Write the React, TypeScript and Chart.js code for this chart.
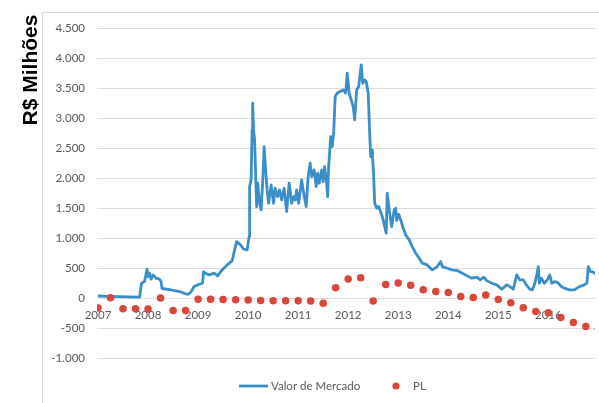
import { useEffect, useRef } from "react";
import { Chart, registerables } from "chart.js";
Chart.register(...registerables);

// Valor de Mercado (R$ milhões) — year fraction and value
const mvYears = [
  2007.0, 2007.2, 2007.4, 2007.6, 2007.83, 2007.87, 2007.93, 2007.98, 2008.0, 2008.03,
  2008.06, 2008.1, 2008.16, 2008.23, 2008.26, 2008.28, 2008.46, 2008.65, 2008.72, 2008.8,
  2008.86, 2008.92, 2008.99, 2009.09, 2009.11, 2009.12, 2009.22, 2009.32, 2009.39, 2009.48,
  2009.58, 2009.68, 2009.77, 2009.85, 2009.91, 2009.98, 2010.02, 2010.03, 2010.06, 2010.08,
  2010.09, 2010.11, 2010.13, 2010.15, 2010.17, 2010.19, 2010.23, 2010.26, 2010.29, 2010.32,
  2010.35, 2010.38, 2010.41, 2010.46, 2010.51, 2010.54, 2010.59, 2010.63, 2010.67, 2010.72,
  2010.77, 2010.82, 2010.87, 2010.91, 2010.94, 2010.97, 2011.01, 2011.07, 2011.1, 2011.16,
  2011.2, 2011.24, 2011.27, 2011.32, 2011.36, 2011.39, 2011.42, 2011.47, 2011.5, 2011.53,
  2011.57, 2011.59, 2011.61, 2011.65, 2011.68, 2011.71, 2011.74, 2011.78, 2011.83, 2011.9,
  2011.95, 2011.98, 2012.02, 2012.06, 2012.1, 2012.13, 2012.17, 2012.21, 2012.26, 2012.29,
  2012.33, 2012.36, 2012.4, 2012.43, 2012.45, 2012.48, 2012.51, 2012.53, 2012.57, 2012.61,
  2012.66, 2012.7, 2012.76, 2012.78, 2012.82, 2012.87, 2012.92, 2012.95, 2012.97, 2013.01,
  2013.05, 2013.1, 2013.15, 2013.22, 2013.28, 2013.35, 2013.42, 2013.48, 2013.58, 2013.68,
  2013.78, 2013.85, 2013.88, 2013.98, 2014.08, 2014.18, 2014.28, 2014.38, 2014.47, 2014.57,
  2014.64, 2014.71, 2014.77, 2014.87, 2014.97, 2015.07, 2015.17, 2015.23, 2015.3, 2015.37,
  2015.43, 2015.5, 2015.56, 2015.63, 2015.68, 2015.73, 2015.77, 2015.8, 2015.82, 2015.86,
  2015.92, 2015.98, 2016.03, 2016.07, 2016.13, 2016.19, 2016.26, 2016.32, 2016.42, 2016.52,
  2016.62, 2016.72, 2016.77, 2016.8, 2016.84, 2016.89, 2016.92, 2016.96,
];
const mvValues = [
  40, 35, 30, 25, 20, 253, 280, 486, 363, 420,
  320, 391, 336, 320, 280, 165, 141, 110, 85, 65,
  110, 197, 225, 253, 446, 430, 391, 420, 375, 474,
  557, 624, 945, 890, 819, 807, 1028, 1860, 1972, 2804,
  3248, 2804, 2637, 2083, 1528, 1917, 1584, 1473, 1917, 2526,
  2138, 1805, 1584, 1889, 1584, 1834, 1694, 1805, 1639, 1834,
  1445, 1917, 1584, 1694, 1639, 1805, 1584, 1972, 1805, 1528,
  2027, 2250, 2027, 2138, 1860, 2083, 1917, 2138, 1944, 2194,
  1917, 1694, 2194, 2693, 2526, 2749, 3358, 3414, 3441, 3469,
  3414, 3747, 3414, 3303, 3192, 2970, 3469, 3525, 3885, 3581,
  3636, 3608, 3414, 2749, 2360, 2471, 2027, 1584, 1500, 1528,
  1418, 1306, 1085, 1750, 1473, 1195, 1473, 1500, 1300, 1400,
  1306, 1168, 1057, 973, 862, 752, 669, 586, 557, 474,
  530, 613, 530, 502, 474, 463, 420, 375, 336, 353,
  308, 353, 296, 253, 225, 153, 225, 197, 153, 391,
  308, 308, 225, 153, 141, 253, 391, 530, 253, 336,
  253, 308, 391, 253, 280, 264, 197, 170, 141, 141,
  197, 225, 253, 530, 446, 446, 420, 400,
];

// PL (R$ milhões) — quarterly
const plQuarters = [
  2007.0, 2007.25, 2007.5, 2007.75, 2008.0, 2008.25, 2008.5, 2008.75, 2009.0, 2009.25,
  2009.5, 2009.75, 2010.0, 2010.25, 2010.5, 2010.75, 2011.0, 2011.25, 2011.5, 2011.75,
  2012.0, 2012.25, 2012.5, 2012.75, 2013.0, 2013.25, 2013.5, 2013.75, 2014.0, 2014.25,
  2014.5, 2014.75, 2015.0, 2015.25, 2015.5, 2015.75, 2016.0, 2016.25, 2016.5, 2016.75,
  2017.0,
];
const plValues = [
  -160, 12, -172, -172, -178, 5, -200, -200, -12, -15,
  -20, -23, -28, -33, -38, -40, -40, -45, -80, 178,
  322, 345, -45, 230, 255, 217, 145, 117, 100, 33,
  17, 55, -17, -72, -155, -217, -238, -317, -400, -467,
  -510,
];

const xTickYears = [2007, 2008, 2009, 2010, 2011, 2012, 2013, 2014, 2015, 2016];
const yTickValues = [-1000, -500, 0, 500, 1000, 1500, 2000, 2500, 3000, 3500, 4000, 4500];

const seriesNames = ["Valor de Mercado", "PL"];
const yTitle = "R$ Milhões";

const BLUE = "#3A8FC8";
const RED = "#D9463B";
const GRID = "#DCDCDC";
const TEXT = "#595959";
const FONT = "Lato, 'Open Sans', sans-serif";

function fmtBR(v: number): string {
  const neg = v < 0;
  const s = Math.round(Math.abs(v)).toString();
  const withSep = s.replace(/\B(?=(\d{3})+(?!\d))/g, ".");
  return (neg ? "-" : "") + withSep;
}

export default function App() {
  const ref = useRef<HTMLCanvasElement>(null);

  useEffect(() => {
    if (!ref.current) return;

    const decor = {
      id: "decor",
      beforeDraw(chart: any) {
        const ctx = chart.ctx;
        ctx.save();
        ctx.fillStyle = "#ffffff";
        ctx.fillRect(0, 0, chart.width, chart.height);
        ctx.strokeStyle = "#D9D9D9";
        ctx.lineWidth = 1;
        ctx.beginPath();
        ctx.moveTo(42.5, chart.height);
        ctx.lineTo(42.5, 12.5);
        ctx.lineTo(chart.width, 12.5);
        ctx.stroke();
        ctx.restore();
      },
      afterDraw(chart: any) {
        const ctx = chart.ctx;
        ctx.save();
        // Y title
        ctx.translate(37, 70);
        ctx.rotate(-Math.PI / 2);
        ctx.font = "bold 21px 'Liberation Sans', Arial, sans-serif";
        ctx.fillStyle = "#000000";
        ctx.textAlign = "center";
        ctx.textBaseline = "alphabetic";
        ctx.fillText(yTitle, 0, 0);
        ctx.restore();

        // Legend
        ctx.save();
        const ly = 386;
        ctx.font = `11.5px ${FONT}`;
        ctx.textBaseline = "middle";
        ctx.textAlign = "left";
        ctx.fillStyle = TEXT;
        ctx.strokeStyle = BLUE;
        ctx.lineWidth = 2.8;
        ctx.beginPath();
        ctx.moveTo(239, ly);
        ctx.lineTo(268, ly);
        ctx.stroke();
        ctx.fillText(seriesNames[0], 271, ly);
        ctx.fillStyle = RED;
        ctx.beginPath();
        ctx.arc(396, ly, 3.6, 0, Math.PI * 2);
        ctx.fill();
        ctx.fillStyle = TEXT;
        ctx.fillText(seriesNames[1], 413, ly);
        ctx.restore();
      },
    };

    const chart = new Chart(ref.current, {
      type: "line",
      data: {
        datasets: [
          {
            label: seriesNames[1],
            data: plQuarters.map((x, i) => ({ x, y: plValues[i] })),
            showLine: false,
            pointRadius: 3.75,
            pointBackgroundColor: RED,
            pointBorderWidth: 0,
            borderColor: RED,
            order: 1,
          },
          {
            label: seriesNames[0],
            data: mvYears.map((x, i) => ({ x, y: mvValues[i] })),
            borderColor: BLUE,
            borderWidth: 2.8,
            pointRadius: 0,
            tension: 0,
            fill: false,
            borderJoinStyle: "round",
            order: 2,
          },
        ],
      },
      options: {
        animation: false,
        responsive: false,
        devicePixelRatio: 1,
        layout: { padding: { top: 28, bottom: 44.5, left: 0, right: 0 } },
        plugins: {
          legend: { display: false },
          tooltip: { enabled: false },
        },
        scales: {
          x: {
            type: "linear",
            position: { y: 0 } as any,
            min: 2006.98,
            max: 2016.933,
            afterBuildTicks: (scale: any) => {
              scale.ticks = xTickYears.map((v) => ({ value: v }));
            },
            ticks: {
              padding: 10,
              color: TEXT,
              font: { family: FONT, size: 11.5 },
              maxRotation: 0,
              autoSkip: false,
              callback: (v: any) => String(v),
            },
            grid: { display: false, drawTicks: false },
            border: { display: false },
          },
          y: {
            type: "linear",
            min: -1000,
            max: 4500,
            afterBuildTicks: (scale: any) => {
              scale.ticks = yTickValues.map((v) => ({ value: v }));
            },
            afterFit: (scale: any) => {
              scale.width = 97;
            },
            ticks: {
              padding: 12,
              color: TEXT,
              font: { family: FONT, size: 11.5 },
              callback: (v: any) => fmtBR(Number(v)),
            },
            grid: { color: GRID, lineWidth: 1, drawTicks: false },
            border: { display: false },
          },
        },
      } as any,
      plugins: [decor],
    });

    return () => chart.destroy();
  }, []);

  return (
    <div style={{ position: "absolute", left: 0, top: 0, width: 599, height: 403, background: "#fff" }}>
      <canvas ref={ref} width={599} height={403} style={{ display: "block", width: 599, height: 403 }} />
    </div>
  );
}
